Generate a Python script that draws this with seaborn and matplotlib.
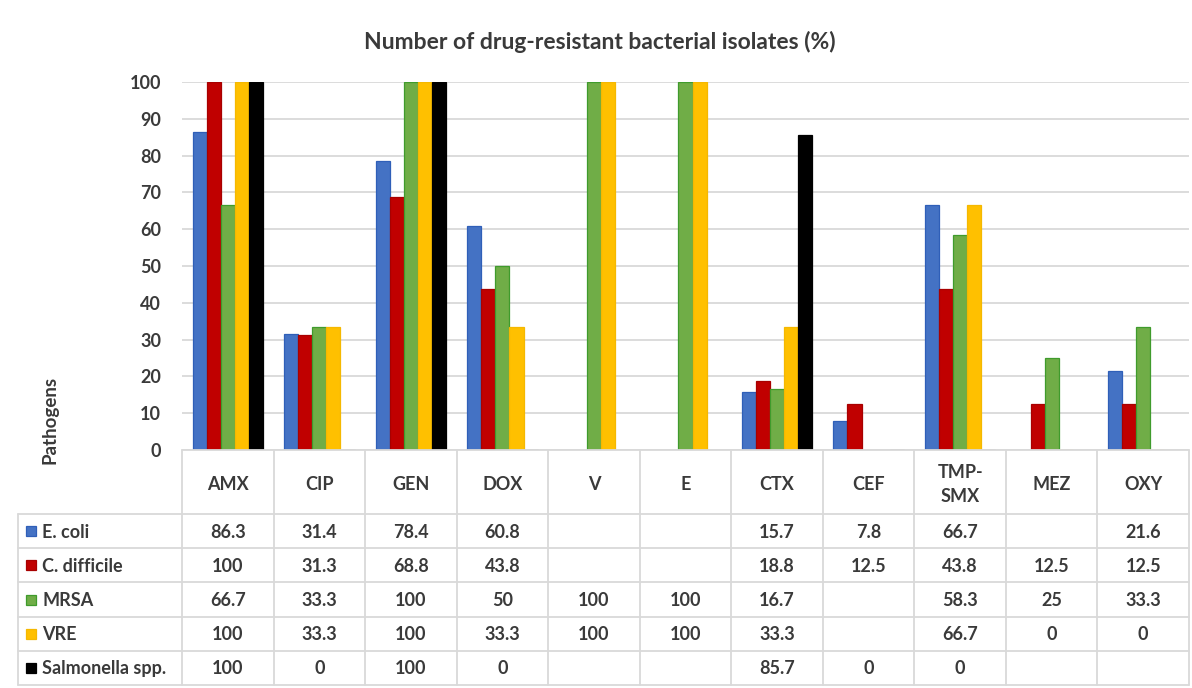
import numpy as np
import pandas as pd
import matplotlib
matplotlib.use("Agg")
import matplotlib.pyplot as plt
import seaborn as sns
from matplotlib.patches import Rectangle

# ---------------- data ----------------
categories = ["AMX", "CIP", "GEN", "DOX", "V", "E", "CTX", "CEF", "TMP-SMX", "MEZ", "OXY"]
header_labels = ["AMX", "CIP", "GEN", "DOX", "V", "E", "CTX", "CEF", "TMP-\nSMX", "MEZ", "OXY"]
series_names = ["E. coli", "C. difficile", "MRSA", "VRE", "Salmonella spp."]
nan = np.nan
ecoli = [86.3, 31.4, 78.4, 60.8, nan, nan, 15.7, 7.8, 66.7, nan, 21.6]
cdiff = [100, 31.3, 68.8, 43.8, nan, nan, 18.8, 12.5, 43.8, 12.5, 12.5]
mrsa = [66.7, 33.3, 100, 50, 100, 100, 16.7, nan, 58.3, 25, 33.3]
vre = [100, 33.3, 100, 33.3, 100, 100, 33.3, nan, 66.7, 0, 0]
salmonella = [100, 0, 100, 0, nan, nan, 85.7, 0, 0, nan, nan]
yticks = [0, 10, 20, 30, 40, 50, 60, 70, 80, 90, 100]
title = "Number of drug-resistant bacterial isolates (%)"
ylabel = "Pathogens"

colors = ["#4472C4", "#C00000", "#70AD47", "#FFC000", "#000000"]
edge_colors = ["#2F5FB8", "#A80000", "#3F9B2C", "#F5B800", "#000000"]

all_series = [ecoli, cdiff, mrsa, vre, salmonella]
rows = []
for name, vals in zip(series_names, all_series):
    for c, v in zip(categories, vals):
        rows.append({"drug": c, "pathogen": name, "value": v})
df = pd.DataFrame(rows)

# ---------------- style ----------------
sns.set_theme(style="white")
plt.rcParams['font.family'] = ['Lato', 'DejaVu Sans']
TXT = "#3A3A3A"
GRID = "#D9D9D9"
FW = "bold"

W, H = 1192, 688
fig = plt.figure(figsize=(W / 100, H / 100), dpi=100)
fig.patch.set_facecolor("white")


def fx(px):
    return px / W


def fy(py):
    return 1 - py / H


L, R, T, B = 182, 1189, 82, 450
TB = 685
ax = fig.add_axes([fx(L), fy(B), fx(R) - fx(L), fy(T) - fy(B)])
sns.barplot(data=df, x="drug", y="value", hue="pathogen", order=categories,
            hue_order=series_names, palette=colors, width=0.77, gap=0,
            errorbar=None, saturation=1, legend=False, ax=ax)
for cont, ec in zip(ax.containers, edge_colors):
    for p in cont:
        p.set_edgecolor(ec)
        p.set_linewidth(0.9)

ax.set_xlim(-0.5, 10.5)
ax.set_ylim(0, 100)
ax.set_yticks(yticks)
ax.set_xticks([])
ax.set_xlabel("")
ax.set_ylabel("")
ax.yaxis.grid(True, color=GRID, lw=1.3)
ax.set_axisbelow(True)
for s in ax.spines.values():
    s.set_visible(False)
ax.tick_params(axis="y", length=0, pad=15, labelsize=13, labelcolor=TXT)
for lab in ax.get_yticklabels():
    lab.set_fontweight(FW)

# ---------------- data table ----------------
slot = (R - L) / 11.0


def xd(px):
    return (px - L) / slot - 0.5


tax = fig.add_axes([fx(L), fy(TB), fx(R) - fx(L), fy(B) - fy(TB)])
tax.set_xlim(-0.5, 10.5)
tax.set_ylim(TB - B, 0)
tax.axis("off")

hdr = 64
row_edges = [hdr + i * (TB - B - hdr) / 5.0 for i in range(6)]
left_px = 18
lkw = dict(color=GRID, lw=1.3, clip_on=False)
tax.plot([-0.5, 10.5], [0, 0], **lkw)
for y in row_edges:
    tax.plot([xd(left_px), 10.5], [y, y], **lkw)
for k in range(12):
    tax.plot([-0.5 + k, -0.5 + k], [0, TB - B], **lkw)
tax.plot([xd(left_px), xd(left_px)], [hdr, TB - B], **lkw)

tkw = dict(ha="center", va="center", fontsize=13, color=TXT, fontweight=FW, clip_on=False)
for i, lab in enumerate(header_labels):
    tax.text(i, hdr / 2 + 2, lab, linespacing=1.5, **tkw)

for r, (name, vals, col, ec) in enumerate(zip(series_names, all_series, colors, edge_colors)):
    yc = (row_edges[r] + row_edges[r + 1]) / 2
    for i, v in enumerate(vals):
        if not np.isnan(v):
            tax.text(i, yc + 1, f"{v:g}", **tkw)
    sq = 10
    tax.add_patch(Rectangle((xd(26), yc - sq / 2), sq / slot, sq, facecolor=col,
                            edgecolor=ec, lw=0.9, clip_on=False))
    tax.text(xd(42), yc + 1, name, ha="left", va="center", fontsize=13, color=TXT,
             fontweight=FW, clip_on=False)

fig.text(fx(600), fy(42), title, ha="center", va="center", fontsize=16.5,
         color=TXT, fontweight=FW)
fig.text(fx(50), fy(420), ylabel, ha="center", va="center", rotation=90,
         fontsize=13.5, color=TXT, fontweight=FW)

fig.savefig("out.png", dpi=100, facecolor="white")
